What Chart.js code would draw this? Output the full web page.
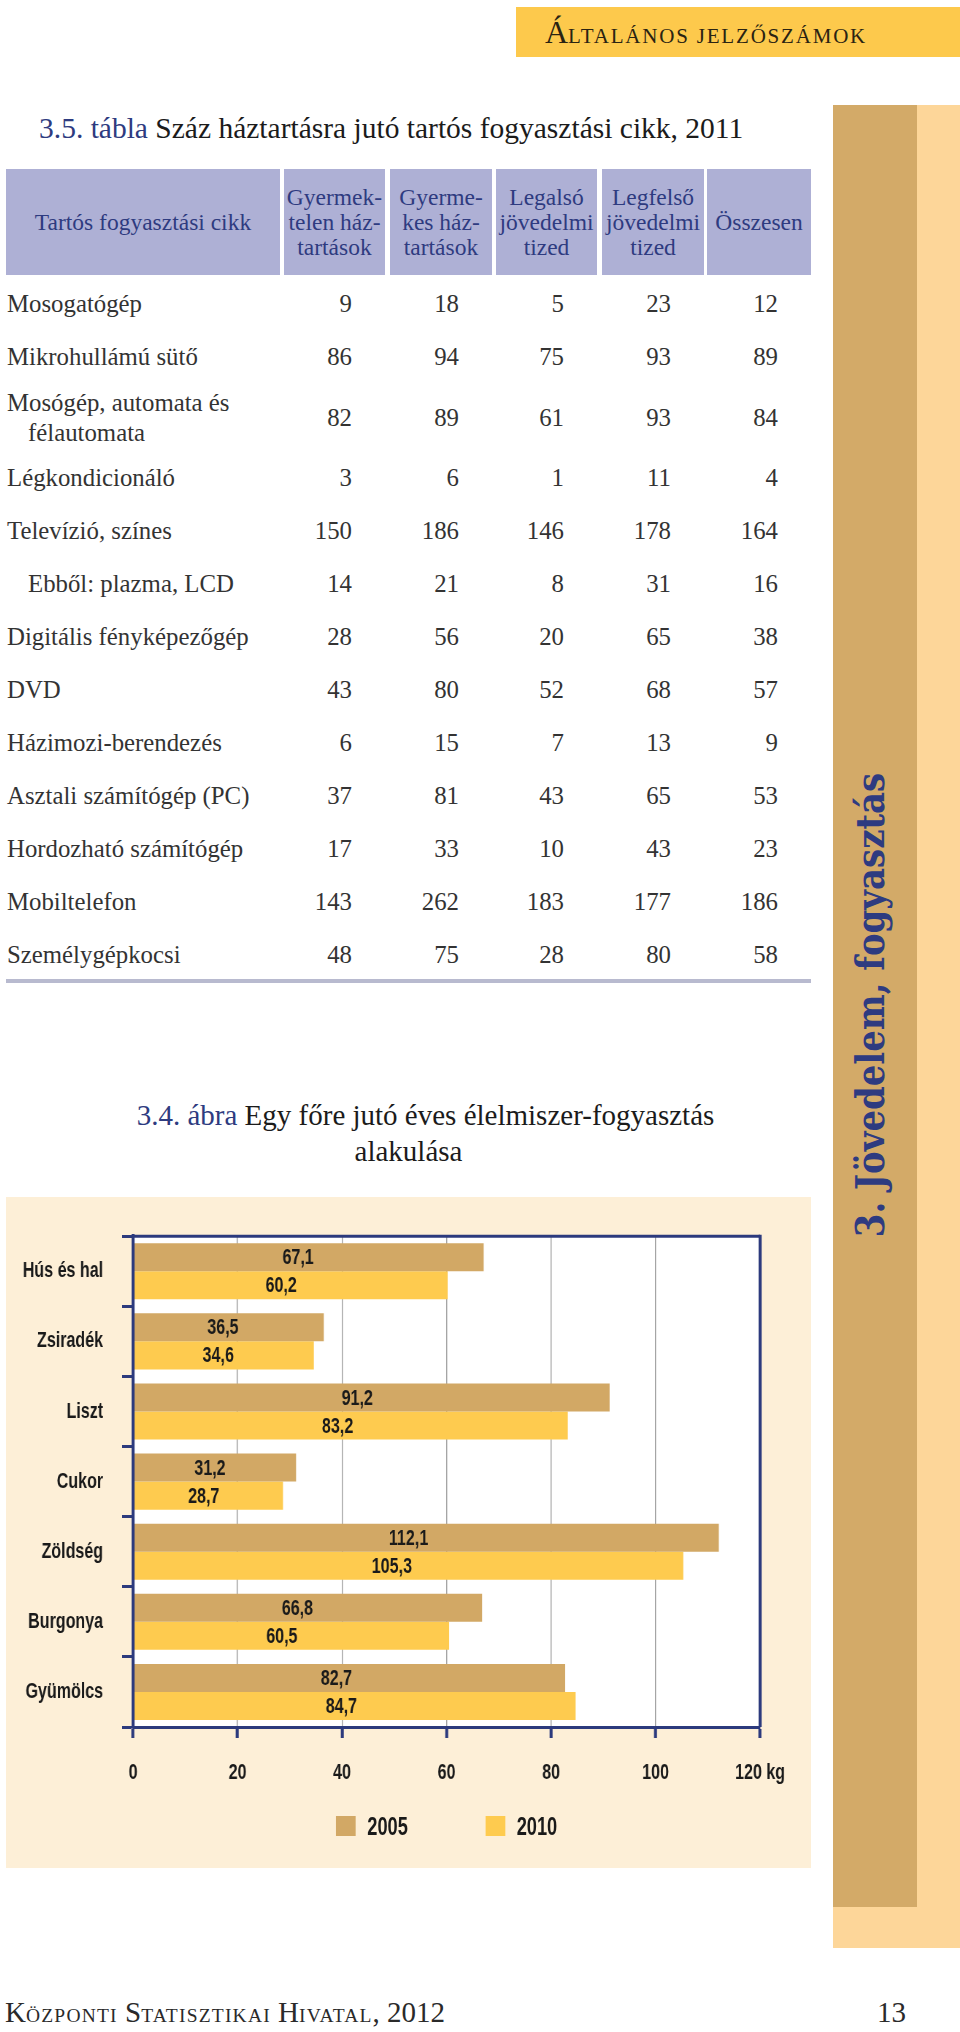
<!DOCTYPE html>
<html lang="hu">
<head>
<meta charset="utf-8">
<title>3.4. ábra – Egy főre jutó éves élelmiszer-fogyasztás alakulása</title>
<script src="https://cdn.jsdelivr.net/npm/chart.js@4.4.1/dist/chart.umd.min.js"></script>
<style>
  html, body { margin: 0; padding: 0; }
  body {
    width: 960px; height: 2032px; position: relative; overflow: hidden;
    background: #fff; color: #333;
    font-family: "Liberation Serif", "Times New Roman", serif;
  }
  .abs { position: absolute; }
  .sc { text-transform: uppercase; }

  #runhead { left: 516px; top: 7px; width: 444px; height: 50px; background: #fdc94c;
             line-height: 50px; color: #2a2312; white-space: nowrap; }
  #runhead .cap { font-size: 32px; margin-left: 29px; }
  #runhead .sc { font-size: 21px; letter-spacing: 1.8px; }

  .ttl { font-size: 29.5px; line-height: 36px; color: #1b1b1b; white-space: nowrap; }
  .ttl .no { color: #2e3b80; }

  .th { top: 169px; height: 106px; background: #aeb0d5; color: #2e3b80;
        font-size: 23.5px; line-height: 25px; text-align: center;
        display: flex; align-items: center; justify-content: center; }

  #rows { left: 0; top: 277.5px; width: 960px; }
  .row { position: relative; min-height: 45px; padding: 4px 0; display: flex; align-items: center; }
  .lbl { margin-left: 7px; width: 270px; font-size: 24.8px; line-height: 30px;
         padding-left: 21px; text-indent: -21px; }
  .lbl.sub { text-indent: 0; }
  .val { position: absolute; top: 0; bottom: 0; display: flex; align-items: center; font-size: 24.8px; }

  #rule { left: 6px; top: 979px; width: 805px; height: 4px; background: #b8bacf; }

  #ctitle { left: 6px; width: 805px; top: 1097px; text-align: center;
            font-size: 29px; line-height: 36px; color: #1b1b1b; }
  #ctitle .no { color: #2e3b80; }
  #ctitle .l1 { padding-left: 34px; }

  #panel { left: 6px; top: 1197px; width: 805px; height: 671px; background: #fdefd7; }
  #chartWrap { position: absolute; left: 0; top: 0; height: 671px; transform-origin: 0 0; }
  #legend { position: absolute; top: 617px; height: 24px; display: flex; justify-content: center;
            align-items: center; gap: 106px; font: bold 25px "Liberation Sans", Arial, sans-serif; color: #1a1a1a; }
  #legend .item { display: flex; align-items: center; }
  #legend .box { width: 27px; height: 20px; margin-right: 16px; }

  #sideBack { left: 833px; top: 105px; width: 127px; height: 1843px; background: #fdd699; }
  #sideBar  { left: 833px; top: 105px; width: 84px; height: 1802px; background: #d3aa68; }
  #sideText { left: 870px; top: 1005px; white-space: nowrap; color: #2e3b80;
              font: bold 40px "DejaVu Serif", serif; line-height: 1; }

  #foot { left: 5px; top: 1992px; line-height: 40px; color: #2a2a2a; white-space: nowrap; font-size: 29px; }
  #foot .sc { font-size: 19.5px; letter-spacing: 1.2px; }
  #pageno { left: 877px; top: 1992px; line-height: 40px; font-size: 29px; color: #2a2a2a; }
</style>
</head>
<body>

<div id="runhead" class="abs"><span class="cap">Á</span><span class="sc">ltalános jelzőszámok</span></div>

<div class="abs ttl" style="left:39px; top:110px;"><span class="no">3.5. tábla</span> Száz háztartásra jutó tartós fogyasztási cikk, 2011</div>

<div id="heads"></div>
<div id="rows" class="abs"></div>
<div id="rule" class="abs"></div>

<div id="ctitle" class="abs"><div class="l1"><span class="no">3.4. ábra</span> Egy főre jutó éves élelmiszer-fogyasztás</div><div>alakulása</div></div>

<div id="panel" class="abs">
  <div id="chartWrap">
    <canvas id="foodChart"></canvas>
    <div id="legend"></div>
  </div>
</div>

<div id="sideBack" class="abs"></div>
<div id="sideBar" class="abs"></div>
<div id="sideText" class="abs">3. Jövedelem, fogyasztás</div>

<div id="foot" class="abs">K<span class="sc">özponti</span> S<span class="sc">tatisztikai</span> H<span class="sc">ivatal</span>, 2012</div>
<div id="pageno" class="abs">13</div>

<script>
// ── 3.5. tábla: values per 100 households ──
const tableHeads = ["Tartós fogyasztási cikk", "Gyermek-<br>telen ház-<br>tartások", "Gyerme-<br>kes ház-<br>tartások",
                    "Legalsó<br>jövedelmi<br>tized", "Legfelső<br>jövedelmi<br>tized", "Összesen"];
const goods = ["Mosogatógép", "Mikrohullámú sütő", "Mosógép, automata és félautomata", "Légkondicionáló",
               "Televízió, színes", "Ebből: plazma, LCD", "Digitális fényképezőgép", "DVD", "Házimozi-berendezés",
               "Asztali számítógép (PC)", "Hordozható számítógép", "Mobiltelefon", "Személygépkocsi"];
const childless     = [9, 86, 82, 3, 150, 14, 28, 43, 6, 37, 17, 143, 48];
const withChildren  = [18, 94, 89, 6, 186, 21, 56, 80, 15, 81, 33, 262, 75];
const lowestDecile  = [5, 75, 61, 1, 146, 8, 20, 52, 7, 43, 10, 183, 28];
const highestDecile = [23, 93, 93, 11, 178, 31, 65, 68, 13, 65, 43, 177, 80];
const allHouseholds = [12, 89, 84, 4, 164, 16, 38, 57, 9, 53, 23, 186, 58];
const subRows = ["Ebből: plazma, LCD"];

// ── 3.4. ábra: kg per person per year ──
const foodItems = ["Hús és hal", "Zsiradék", "Liszt", "Cukor", "Zöldség", "Burgonya", "Gyümölcs"];
const kg2005 = [67.1, 36.5, 91.2, 31.2, 112.1, 66.8, 82.7];
const kg2010 = [60.2, 34.6, 83.2, 28.7, 105.3, 60.5, 84.7];
const years = ["2005", "2010"];
const xTickValues = [0, 20, 40, 60, 80, 100, 120];

const NAVY = "#2c3a7d";
const TAN  = "#d2a865";
const GOLD = "#fecb4f";

// ── table ──
const colLeft  = [6, 284, 390, 496, 602, 707];
const colRight = [280, 385, 492, 597, 704, 811];
const heads = document.getElementById("heads");
tableHeads.forEach((h, i) => {
  const d = document.createElement("div");
  d.className = "abs th";
  d.style.left = colLeft[i] + "px";
  d.style.width = (colRight[i] - colLeft[i]) + "px";
  d.innerHTML = h;
  heads.appendChild(d);
});

const cols = [childless, withChildren, lowestDecile, highestDecile, allHouseholds];
const rows = document.getElementById("rows");
goods.forEach((g, r) => {
  const row = document.createElement("div");
  row.className = "row";
  row.innerHTML = `<div class="lbl${subRows.includes(g) ? " sub" : ""}">${g}</div>` +
    cols.map((c, k) => `<div class="val" style="right:${960 - (colRight[k + 1] - 33)}px">${c[r]}</div>`).join("");
  rows.appendChild(row);
});

// ── sidebar label, squeezed along its length ──
const side = document.getElementById("sideText");
const k = 464 / side.offsetWidth;
side.style.transform = `translate(-50%, -50%) rotate(-90deg) scaleX(${k})`;

// ── chart ──
const SX = 0.73;                        // condensed lettering: canvas is compressed horizontally
const W = Math.round(805 / SX);
const AREA_L = 174, AREA_R = 1033;      // plot edges in canvas units
const wrap = document.getElementById("chartWrap");
wrap.style.width = W + "px";
wrap.style.transform = `scaleX(${SX})`;

Chart.defaults.font.family = '"Liberation Sans", Arial, sans-serif';

const fmt = v => v.toFixed(1).replace(".", ",");

const plotFrame = {
  id: "plotFrame",
  beforeDraw(chart) {
    const {ctx, chartArea: a} = chart;
    ctx.save();
    ctx.fillStyle = "#fff";
    ctx.fillRect(a.left, a.top, a.right - a.left, a.bottom - a.top);
    ctx.restore();
  },
  afterDatasetsDraw(chart) {
    const {ctx, chartArea: a} = chart;
    ctx.save();
    ctx.strokeStyle = NAVY;
    ctx.lineWidth = 3;
    ctx.beginPath(); ctx.moveTo(a.left, a.top); ctx.lineTo(a.right, a.top); ctx.stroke();
    ctx.lineWidth = 3 / SX;
    ctx.beginPath(); ctx.moveTo(a.right, a.top - 1.5); ctx.lineTo(a.right, a.bottom); ctx.stroke();
    ctx.restore();
  }
};

const barValues = {
  id: "barValues",
  afterDatasetsDraw(chart) {
    const {ctx} = chart;
    ctx.save();
    ctx.font = 'bold 22px "Liberation Sans", Arial, sans-serif';
    ctx.fillStyle = "#1a1a1a";
    ctx.textAlign = "center";
    ctx.textBaseline = "middle";
    chart.data.datasets.forEach((ds, i) => {
      chart.getDatasetMeta(i).data.forEach((bar, j) => {
        ctx.fillText(fmt(ds.data[j]), bar.base + 0.47 * (bar.x - bar.base), bar.y + 1);
      });
    });
    ctx.restore();
  }
};

const chart = new Chart(document.getElementById("foodChart"), {
  type: "bar",
  data: {
    labels: foodItems,
    datasets: [
      { label: years[0], data: kg2005, backgroundColor: TAN,  categoryPercentage: 0.8, barPercentage: 1, borderWidth: 0 },
      { label: years[1], data: kg2010, backgroundColor: GOLD, categoryPercentage: 0.8, barPercentage: 1, borderWidth: 0 }
    ]
  },
  options: {
    indexAxis: "y",
    responsive: true,
    maintainAspectRatio: false,
    animation: false,
    layout: { padding: { left: 0, top: 38, right: W - AREA_R, bottom: 0 } },
    plugins: { legend: { display: false }, tooltip: { enabled: false } },
    scales: {
      x: {
        type: "linear", min: 0, max: 120,
        afterBuildTicks: s => { s.ticks = xTickValues.map(v => ({ value: v })); },
        afterFit: s => { s.height = 141; },
        ticks: {
          color: "#1a1a1a", padding: 22, maxRotation: 0,
          font: { size: 22, weight: "bold" },
          callback: v => v === 120 ? "120 kg" : String(v)
        },
        grid: { color: "#999", lineWidth: 1 / SX, tickColor: NAVY, tickWidth: 3 / SX, tickLength: 11 },
        border: { color: NAVY, width: 3, z: 1 }
      },
      y: {
        afterFit: s => { s.width = AREA_L; },
        ticks: { color: "#1a1a1a", padding: 26, font: { size: 22, weight: "bold" } },
        grid: { drawOnChartArea: false, offset: true, tickColor: NAVY, tickWidth: 3, tickLength: 15 },
        border: { color: NAVY, width: 3 / SX, z: 1 }
      }
    }
  },
  plugins: [plotFrame, barValues]
});

// legend, centred over the plot area
const legend = document.getElementById("legend");
legend.style.left = AREA_L + "px";
legend.style.width = (AREA_R - AREA_L) + "px";
legend.innerHTML = chart.data.datasets.map(ds =>
  `<div class="item"><div class="box" style="background:${ds.backgroundColor}"></div>${ds.label}</div>`).join("");
</script>
</body>
</html>
